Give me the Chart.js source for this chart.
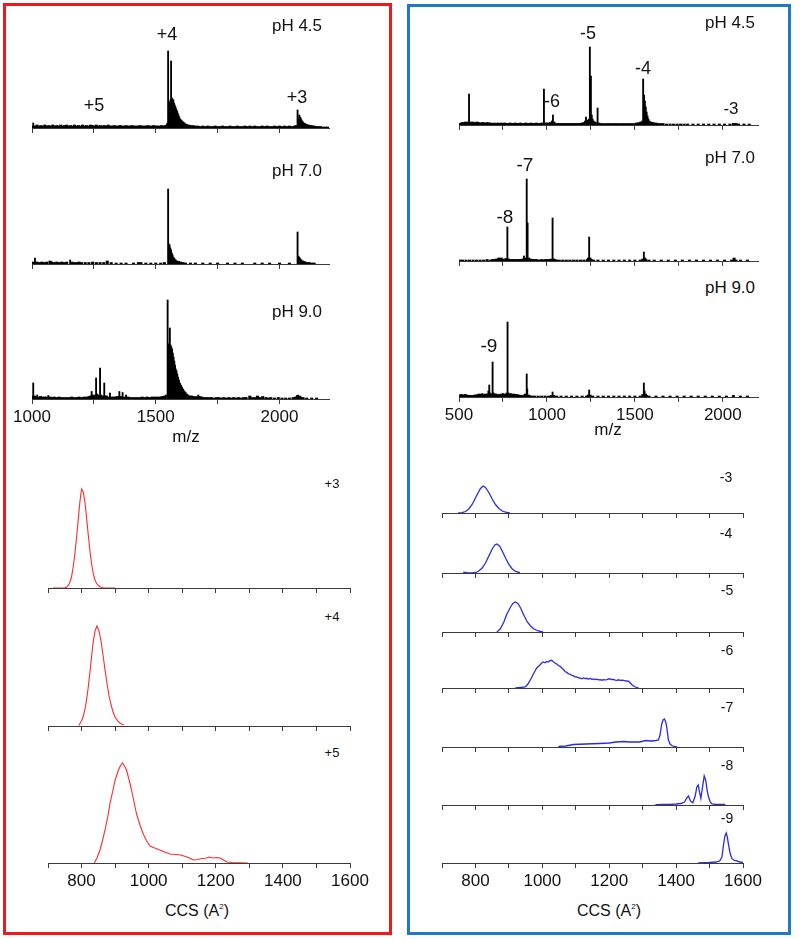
<!DOCTYPE html>
<html><head><meta charset="utf-8">
<script src="https://cdn.jsdelivr.net/npm/chart.js@4/dist/chart.umd.min.js"></script>
<style>
html,body{margin:0;padding:0;background:#fff;}
#stage{position:relative;width:800px;height:939px;overflow:hidden;font-family:"Liberation Sans",Arial,sans-serif;}
.box{position:absolute;box-sizing:border-box;}
.pane{position:absolute;}
.lbl{position:absolute;transform:translate(-50%,-50%);white-space:nowrap;color:#111;line-height:1;}
</style></head><body><div id="stage"></div>
<script>
// ---------- ticks ----------
const msTickValuesLeft = [1000, 1250, 1500, 1750, 2000];
const msTickValuesRight = [500, 750, 1000, 1250, 1500, 1750, 2000];
const ccsTickValues = [700, 800, 900, 1000, 1100, 1200, 1300, 1400, 1500, 1600];
const msTicksLeft = [1000, 1500, 2000];
const msTicksRight = [500, 1000, 1500, 2000];
const ccsTicks = [800, 1000, 1200, 1400, 1600];

// ---------- mass spectra, positive mode (m/z, relative intensity) ----------
const msPos45 = [[1003,2],[1005,5],[1012,2],[1020,3],[1028,2],[1036,2.5],[1044,2],[1052,3],[1060,2],[1068,2.5],[1076,2],[1084,3],[1092,2],[1100,2.5],[1108,2],[1116,3],[1124,2],[1132,2.5],[1140,3],[1148,2],[1156,2.5],[1164,2],[1172,3],[1180,2],[1188,2.5],[1196,2],[1204,3],[1212,2],[1220,2.5],[1228,2],[1236,3],[1244,2.5],[1252,2],[1260,3],[1268,2],[1276,2.5],[1284,2],[1292,2.5],[1300,2],[1308,3],[1316,2],[1324,2],[1332,2.5],[1340,2],[1348,2],[1356,2.5],[1364,2],[1372,2],[1380,2.5],[1388,2],[1396,2],[1404,2.5],[1412,2],[1420,2],[1428,2],[1436,2.5],[1444,2],[1452,2],[1460,2],[1468,2.5],[1476,2],[1484,2],[1492,2.5],[1500,2],[1508,2],[1516,2],[1524,2.5],[1532,2],[1540,2.5],
 [1544,3],[1547,5],[1550,77],[1553,22],[1556,26],[1559,28],[1562,67],[1565,30],[1568,29],[1571,28],[1574,25],[1577,23],[1580,21],[1583,19],[1586,17],[1589,15],[1592,13],[1595,11],[1599,9],[1603,8],[1607,7],[1612,6],[1617,5],[1622,4],[1627,3.5],[1633,3],[1640,2.5],
 [1650,2.5],[1660,2],[1670,2],[1680,1.5],[1690,2],[1700,1.5],[1710,2],[1720,1.5],[1730,1.5],[1740,2],[1750,1.5],[1760,1.5],[1770,2],[1780,1.5],[1790,1.5],[1800,2],[1810,1.5],[1820,1.5],[1830,2],[1840,1.5],[1850,1.5],[1860,2],[1870,1.5],[1880,2],[1890,1.5],[1900,2],[1910,1.5],[1920,1.5],[1930,2],[1940,1.5],[1950,2],[1960,1.5],[1970,1.5],[1980,2],[1990,1.5],[2000,2],[2010,1.5],[2020,2],[2030,1.5],[2040,2],[2050,1.5],[2060,2],[2068,2.5],
 [2073,18],[2076,9],[2080,13],[2083,11],[2086,10],[2089,8],[2092,7],[2095,6],[2099,5],[2103,4.5],[2107,4],[2112,3.5],[2117,3],[2122,2.5],[2128,2.5],[2134,2],[2140,2],[2146,1.5],[2155,1.5],[2165,1.5],[2175,1],[2185,1],[2195,1]];

const msPos70 = [[1003,2],[1012,6],[1020,2],[1030,1.5],[1040,2],[1050,1.5],[1060,2],[1073,3],[1080,2],[1090,1.5],[1100,2],[1110,1.5],[1120,2],[1130,1.5],[1140,2],[1154,4],[1160,2],[1170,1.5],[1180,1.5],[1190,2],[1200,1.5],[1215,1.5],[1230,1.5],[1245,2],[1260,1.5],[1275,1.5],[1290,1.5],[1304,3],[1320,1.5],[1340,1],[1360,1],[1380,1],[1410,1],[1430,1.5],[1440,1.5],[1460,1],[1480,1],[1500,1],[1520,1],[1535,1.5],
 [1550,75],[1553,20],[1556,19],[1559,16],[1562,14],[1565,11],[1568,9],[1571,7],[1574,6],[1577,5],[1581,4],[1586,3],[1592,2.5],[1600,2],[1610,1.5],[1620,1],
 [1640,1],[1660,1],[1690,1],[1720,1],[1750,1],[1790,1],[1820,1],[1850,1],[1900,1],[1930,1],[1960,1],[2000,1],[2040,1],
 [2073,32],[2076,8],[2079,7],[2082,6],[2085,5],[2089,4],[2093,3],[2098,2.5],[2104,2],[2110,1.5],[2120,1.5],[2130,1],[2140,1]];

const msPos90 = [[1002,3],[1005,16],[1010,3],[1015,2],[1021,4],[1028,2],[1035,2.5],[1042,2],[1050,2],[1058,2],[1066,3.5],[1074,2],[1082,1.5],[1090,2],[1100,1.5],[1110,2],[1120,1.5],[1130,1.5],[1140,1.5],[1150,1.5],[1160,2],[1170,1.5],[1180,1.5],[1190,2],[1200,1.5],[1210,2],[1220,2],[1230,2.5],[1236,3],[1241,7.5],[1246,4],[1250,3],[1254,4],[1259,21],[1263,5],[1267,4],[1271,3],[1275,31],[1279,4],[1284,3],[1288,3],[1292,16],[1296,3],[1301,3],[1307,2],[1315,6],[1322,2],[1330,2],[1338,2],[1345,2.5],[1353,7.5],[1360,2.5],[1366,6.5],[1373,2],[1380,4],[1388,2],[1396,1.5],[1405,1.5],[1415,1.5],[1425,1.5],[1435,1.5],[1445,2],[1455,1.5],[1465,2],[1475,1.5],[1485,2],[1495,2],[1505,2],[1515,2],[1525,2.5],[1535,3],[1541,4],
 [1548,99],[1551,55],[1554,55],[1557,71],[1560,54],[1563,52],[1566,50],[1569,46],[1572,42],[1575,38],[1578,34],[1581,30],[1584,28],[1587,25],[1590,22],[1594,19],[1598,16],[1602,14],[1606,12],[1611,10],[1616,8],[1621,6.5],[1626,5],[1632,4],[1638,3],[1645,3],[1652,2.5],[1660,2],[1666,2.5],[1672,4],[1678,2.5],[1686,2],
 [1695,1.5],[1705,1.5],[1715,1.5],[1725,1.5],[1735,1],[1745,1.5],[1755,1.5],[1765,1],[1775,1.5],[1785,1],[1795,1.5],[1805,1],[1815,1.5],[1825,1],[1835,1.5],[1845,1],[1855,1.5],[1865,1.5],[1880,3],[1890,1.5],[1900,1.5],[1911,3],[1920,1.5],[1932,2.5],[1945,1.5],[1955,1],[1965,1.5],[1980,1],[1995,1.5],[2010,1],[2025,1],[2040,1],[2055,1.5],[2065,2],[2070,3.5],[2075,4],[2080,3],[2085,2],[2095,1.5],[2110,1],[2130,1],[2150,1]];

// ---------- mass spectra, negative mode ----------
const msNeg45 = [[505,1.5],[512,2],[520,2.5],[528,2],[536,3],[544,2],[552,3],[557,31],[562,3],[570,2],[578,3],[586,2.5],[594,2],[602,3],[610,2.5],[618,2],[626,2],[634,2.5],[642,2],[650,2],[660,2.5],[670,2],[680,2],[690,1.5],[700,2],[710,1.5],[720,2],[730,1.5],[740,2],[750,1.5],[760,2],[770,1.5],[780,1.5],[790,2],[800,1.5],[810,1.5],[820,2],[830,1.5],[840,1.5],[850,2],[860,1.5],[870,1.5],[880,2],[890,1.5],[900,1.5],[910,2],[920,1.5],[930,1.5],[940,2],[950,1.5],[960,1.5],[970,2],[983,36],[990,2],[1000,2],[1010,2],[1020,2.5],[1028,4],[1034,10],[1040,3],[1050,1.5],[1060,1.5],[1070,1.5],[1080,1.5],[1090,1.5],[1100,1.5],[1110,1.5],[1120,1.5],[1130,1.5],[1140,1.5],[1150,1.5],[1160,1.5],[1170,1.5],[1180,1.5],[1190,1.5],[1200,2],[1210,2.5],[1216,4],[1222,8],[1228,5],[1234,4],[1239,6],[1244,78],[1250,49],[1255,10],[1260,6],[1266,4],[1273,3],[1280,2],[1288,17],[1295,2],[1305,1.5],[1320,1.5],[1335,1.5],[1350,1.5],[1365,1.5],[1380,1.5],[1395,1.5],[1410,1.5],[1425,1.5],[1440,1.5],[1455,1.5],[1470,1.5],[1485,1.5],[1500,1.5],[1510,2],[1520,2],[1528,2.5],[1535,3],[1541,4],[1547,46],[1552,30],[1557,24],[1562,18],[1567,13],[1572,9],[1577,6],[1583,4],[1590,3],[1600,2.5],[1610,2],[1620,2],[1630,1.5],[1645,1.5],[1660,1.5],[1680,1],[1700,1],[1720,1],[1740,1],[1760,1],[1780,1],[1800,1],[1830,1],[1860,1],[1890,1],[1920,1],[1950,1],[1980,1],[2010,1],[2040,1],[2060,1.5],[2068,1.5],[2076,1.5],[2090,1],[2120,1],[2150,1]];

const msNeg70 = [[505,1],[520,1],[540,1],[560,1],[580,1],[600,1],[620,1],[640,1],[660,1.5],[680,1],[690,1.5],[700,1.5],[710,2],[718,1.5],[726,3],[733,2],[740,3],[750,1.5],[760,2],[768,2.5],[775,34],[782,2],[790,1.5],[800,1.5],[810,1.5],[820,1.5],[830,1.5],[840,1.5],[850,1.5],[860,2],[869,5],[877,3],[885,82],[890,38],[896,3],[905,2],[912,1.5],[920,1.5],[930,1.5],[940,1.5],[950,1],[960,1],[970,1.5],[980,1],[990,1.5],[1000,1.5],[1010,1.5],[1020,1.5],[1027,2],[1032,43],[1038,2],[1045,1.5],[1055,1],[1070,1],[1090,1],[1110,1],[1130,1],[1150,1],[1170,1],[1190,1],[1210,1],[1230,1.5],[1236,3],[1240,24],[1245,3],[1252,1.5],[1265,1],[1290,1],[1320,1],[1350,1],[1380,1],[1410,1],[1440,1],[1470,1],[1500,1],[1530,1],[1545,2],[1551,9],[1556,3],[1562,1.5],[1580,1],[1610,1],[1650,1],[1690,1],[1730,1],[1770,1],[1810,1],[1850,1],[1890,1],[1930,1],[1970,1],[2010,1],[2050,1],[2064,3],[2075,1],[2100,1],[2140,1]];

const msNeg90 = [[505,2],[512,2.5],[520,2],[528,2],[536,2.5],[544,2],[552,1.5],[560,1.5],[570,1.5],[580,1.5],[590,2],[600,2],[608,2.5],[616,3],[624,2.5],[632,3.5],[640,2.5],[648,3],[655,2],[662,3],[667,6],[672,12],[678,4],[684,3],[691,35],[697,4],[703,3],[710,3],[718,2],[726,2.5],[734,2],[742,3],[750,3.5],[758,3],[765,2.5],[770,4],[776,75],[782,4],[788,3],[795,3.5],[802,2.5],[810,3],[818,2],[826,2.5],[834,2],[842,2],[850,1.5],[860,1.5],[870,2],[878,3],[885,23],[888,8],[893,2],[900,1.5],[915,1],[930,1],[950,1],[970,1],[990,1],[1010,1],[1025,1.5],[1032,5],[1038,1.5],[1055,1],[1080,1],[1110,1],[1140,1],[1170,1],[1200,1],[1225,1],[1235,2],[1240,7],[1245,2],[1260,1],[1290,1],[1320,1],[1350,1],[1380,1],[1410,1],[1440,1],[1470,1],[1500,1],[1530,1],[1545,2.5],[1551,14],[1555,6],[1560,3],[1566,1.5],[1580,1],[1620,1],[1660,1],[1700,1],[1740,1],[1780,1],[1820,1],[1860,1],[1900,1],[1940,1],[1980,1],[2020,1],[2060,1.5],[2100,1],[2140,1]];

// ---------- CCS distributions (CCS, relative intensity) ----------
const ccsP3 = [[715,0],[740,0],[750,0.3],[755,0.8],[760,2.5],[765,5.5],[770,11],[775,21],[780,34],[785,50],[790,68],[795,86],[800,99],[805,96],[810,86],[815,70],[820,53],[825,37],[830,24],[835,14],[840,8],[845,4.5],[850,2.5],[855,1.2],[860,0.5],[865,0.2],[880,0],[900,0]];
const ccsP4 = [[792,0.5],[800,5.3],[805,9.7],[810,16.6],[815,26.4],[820,39],[825,54],[830,70],[835,84.6],[840,95],[846,100],[852,95],[858,85],[864,71],[870,56],[876,42],[882,30],[888,21],[894,14],[900,9],[908,5],[916,2.5],[926,1]];
const ccsP5 = [[838,0],[846,5],[855,13],[862,22],[870,33],[878,46],[885,60],[893,72],[900,83],[910,93],[917,98],[922,100],[928,97],[934,93],[941,84],[949,73],[957,60],[964,49],[974,38],[984,29],[994,22],[1004,17],[1018,15],[1033,13],[1048,11],[1063,9],[1080,8.5],[1095,8],[1110,6.5],[1122,5],[1133,3],[1145,3.5],[1160,4.5],[1172,5],[1180,6],[1190,5],[1203,5.5],[1213,5],[1223,3],[1233,1],[1250,0.5],[1270,0.3],[1295,0]];
const ccsN3 = [[748,0],[760,0.3],[770,1.5],[780,4],[790,8.5],[800,15],[810,21.5],[815,24.5],[823,27],[830,25.5],[840,20.5],[850,14],[860,8.5],[870,4.5],[880,2],[890,0.8],[903,0.2]];
const ccsN4 = [[763,0.6],[770,0.6],[778,0],[790,0],[800,0.5],[810,2],[820,5],[830,10],[840,17],[850,24],[858,28],[864,29],[872,27],[880,22],[890,15],[900,8.5],[910,4],[920,1.5],[933,0.3]];
const ccsN5 = [[864,0],[874,3],[885,10],[894,18],[905,25],[912,28.5],[919,30],[927,28.5],[935,24],[943,18],[955,10],[965,6],[975,3],[988,1],[1002,0]];
const ccsN6 = [[919,0],[935,0.5],[949,1],[957,4],[964,8],[969,11],[973,14],[978,17],[983,20],[988,21.5],[993,23],[998,25],[1003,26],[1008,25.2],[1013,26.5],[1018,26],[1023,27.5],[1028,27.7],[1033,26.3],[1038,25],[1043,24],[1048,22.5],[1053,21.7],[1058,20],[1063,18.5],[1068,16.5],[1073,15.7],[1078,14.2],[1083,13.8],[1088,12.5],[1093,12.3],[1098,11.2],[1103,11],[1108,10.1],[1113,10],[1118,9.2],[1123,10],[1128,9.4],[1133,9.7],[1138,8.9],[1143,9.5],[1148,8.6],[1153,9],[1158,8.4],[1163,8.8],[1168,8.1],[1173,8.3],[1178,7.8],[1183,8.4],[1188,8.1],[1193,8.3],[1198,9.1],[1203,9],[1208,8.5],[1213,8.7],[1218,7.9],[1223,7.7],[1228,8.2],[1233,7.6],[1238,7.9],[1243,7.7],[1248,7.2],[1253,7],[1258,6.7],[1263,5],[1268,3.3],[1273,2],[1278,1],[1288,0]];
const ccsN7 = [[1048,0.5],[1070,1],[1093,2.5],[1130,3],[1170,3.5],[1200,4],[1220,5],[1245,5.5],[1260,5],[1290,5],[1310,6.5],[1325,6],[1340,6.5],[1347,7],[1352,12],[1357,23],[1361,27],[1365,28],[1369,25],[1372,20],[1377,7],[1382,3],[1387,1.5],[1395,0.5],[1403,0]];
const ccsN8 = [[1338,0.3],[1360,0.5],[1380,0.5],[1400,1],[1415,1.5],[1425,3],[1432,7],[1437,9],[1443,4],[1450,2.3],[1457,9],[1462,18],[1466,20],[1470,13],[1474,6.7],[1479,18],[1484,29],[1489,24],[1493,14],[1497,8],[1502,3],[1507,1],[1520,0.5],[1547,0.5]];
const ccsN9 = [[1466,0],[1500,0.5],[1520,1],[1530,2],[1537,6],[1542,19],[1546,27],[1550,30],[1553,26],[1557,17.7],[1562,9],[1567,4.3],[1575,2.5],[1582,2],[1590,1],[1600,0.5]];

// ---------- rendering ----------
const stage = document.getElementById('stage');
const FONT = '"Liberation Sans", Arial, sans-serif';
const AXIS = '#3a3a3a';

function addBox(l, t, w, h, color) {
  const d = document.createElement('div');
  d.className = 'box';
  Object.assign(d.style, {left: l + 'px', top: t + 'px', width: w + 'px', height: h + 'px', border: '3px solid ' + color});
  stage.appendChild(d);
}
addBox(3, 3, 389, 932, '#f01818');
addBox(407, 4, 384, 931, '#1f78c8');

function panel(kind, geo, xr, tickValues, tickLabels, points, color, ymax, showLabels) {
  const padX = 30;
  const axisH = showLabels ? 30 : 6;
  const div = document.createElement('div');
  div.className = 'pane';
  Object.assign(div.style, {left: (geo.x0 - padX) + 'px', top: (geo.axis - geo.h) + 'px',
    width: (geo.x1 - geo.x0 + 2 * padX) + 'px', height: (geo.h + axisH) + 'px'});
  const c = document.createElement('canvas');
  div.appendChild(c); stage.appendChild(div);
  const toXY = arr => arr.map(([x, y]) => ({x, y}));
  const datasets = kind === 'bar'
    ? [ // low baseline noise drawn a little wider so it reads as a continuous trace
        {data: toXY(points.filter(p => p[1] <= 3)), backgroundColor: color, borderWidth: 0, barThickness: 2.4, grouped: false},
        {data: toXY(points.filter(p => p[1] > 3)), backgroundColor: color, borderWidth: 0, barThickness: 1.2, grouped: false}]
    : [{data: toXY(points), borderColor: color, borderWidth: kind === 'lineB' ? 1.3 : 1.1, pointRadius: 0, tension: 0, fill: false}];
  new Chart(c, {
    type: kind === 'bar' ? 'bar' : 'line',
    data: {datasets},
    options: {
      responsive: true, maintainAspectRatio: false, animation: false, events: [],
      layout: {padding: {left: padX, right: padX, top: 0, bottom: 0}},
      plugins: {legend: {display: false}, tooltip: {enabled: false}},
      scales: {
        x: {type: 'linear', min: xr[0], max: xr[1], offset: false,
          afterBuildTicks(s) { s.ticks = tickValues.map(v => ({value: v})); },
          afterFit(s) { s.height = axisH; },
          grid: {display: true, drawOnChartArea: false, drawTicks: true, tickLength: 5, color: AXIS, offset: false},
          border: {display: true, color: AXIS, width: 1},
          ticks: {display: showLabels, autoSkip: false, maxRotation: 0, minRotation: 0,
            padding: 3, color: '#111', font: {family: FONT, size: 17},
            callback: v => tickLabels.includes(v) ? String(v) : ''}},
        y: {display: false, min: 0, max: ymax}
      }
    }
  });
}

const xMSL = [1000, 2200], xMSR = [500, 2200], xCCS = [700, 1600];
// positive-mode mass spectra
panel('bar', {x0: 32, x1: 329, axis: 128, h: 100}, xMSL, msTickValuesLeft, msTicksLeft, msPos45, '#000', 100, false);
panel('bar', {x0: 32, x1: 329, axis: 264, h: 100}, xMSL, msTickValuesLeft, msTicksLeft, msPos70, '#000', 100, false);
panel('bar', {x0: 32, x1: 329, axis: 399, h: 100}, xMSL, msTickValuesLeft, msTicksLeft, msPos90, '#000', 100, true);
// negative-mode mass spectra
panel('bar', {x0: 459, x1: 758, axis: 125, h: 100}, xMSR, msTickValuesRight, msTicksRight, msNeg45, '#000', 100, false);
panel('bar', {x0: 459, x1: 758, axis: 261, h: 100}, xMSR, msTickValuesRight, msTicksRight, msNeg70, '#000', 100, false);
panel('bar', {x0: 459, x1: 758, axis: 397, h: 100}, xMSR, msTickValuesRight, msTicksRight, msNeg90, '#000', 100, true);
// positive CCS
panel('lineR', {x0: 48, x1: 350, axis: 588, h: 102}, xCCS, ccsTickValues, ccsTicks, ccsP3, '#ff2a2a', 102, false);
panel('lineR', {x0: 48, x1: 350, axis: 726, h: 102}, xCCS, ccsTickValues, ccsTicks, ccsP4, '#ff2a2a', 102, false);
panel('lineR', {x0: 48, x1: 350, axis: 863, h: 102}, xCCS, ccsTickValues, ccsTicks, ccsP5, '#ff2a2a', 102, true);
// negative CCS
const negCCS = [ccsN3, ccsN4, ccsN5, ccsN6, ccsN7, ccsN8, ccsN9];
const negAxes = [513, 573, 632, 688, 747, 805, 863];
negCCS.forEach((d, i) => panel('lineB', {x0: 442, x1: 743, axis: negAxes[i], h: 32}, xCCS, ccsTickValues, ccsTicks, d, '#2a2ae6', 32, i === negCCS.length - 1));

// text labels: [text, centerX, centerY, fontSize]
const sup2 = '<sup style="font-size:8px;vertical-align:7px">2</sup>';
const texts = [
  ['pH 4.5', 297, 25, 17], ['+4', 167, 34, 18], ['+5', 94, 105, 18], ['+3', 297, 97, 18],
  ['pH 7.0', 297, 170, 17], ['pH 9.0', 297, 311, 17], ['m/z', 186, 436, 17],
  ['+3', 332, 483, 13], ['+4', 332, 616, 13], ['+5', 332, 752, 13],
  ['CCS (A' + sup2 + ')', 197, 911, 16],
  ['pH 4.5', 730, 22, 17], ['-5', 588, 33, 18], ['-4', 643, 68, 18], ['-6', 552, 101, 18], ['-3', 731, 108, 17],
  ['pH 7.0', 730, 157, 17], ['-7', 525, 164, 19], ['-8', 505, 216, 19],
  ['pH 9.0', 730, 287, 17], ['-9', 489, 345, 19], ['m/z', 608, 429, 17],
  ['-3', 726, 477, 14], ['-4', 726, 533, 14], ['-5', 727, 590, 14], ['-6', 727, 650, 14], ['-7', 727, 707, 14], ['-8', 727, 765, 14], ['-9', 727, 818, 14],
  ['CCS (A' + sup2 + ')', 609, 911, 16]
];
texts.forEach(([t, x, y, s]) => {
  const d = document.createElement('div');
  d.className = 'lbl';
  d.innerHTML = t;
  Object.assign(d.style, {left: x + 'px', top: y + 'px', fontSize: s + 'px'});
  stage.appendChild(d);
});
</script></body></html>
